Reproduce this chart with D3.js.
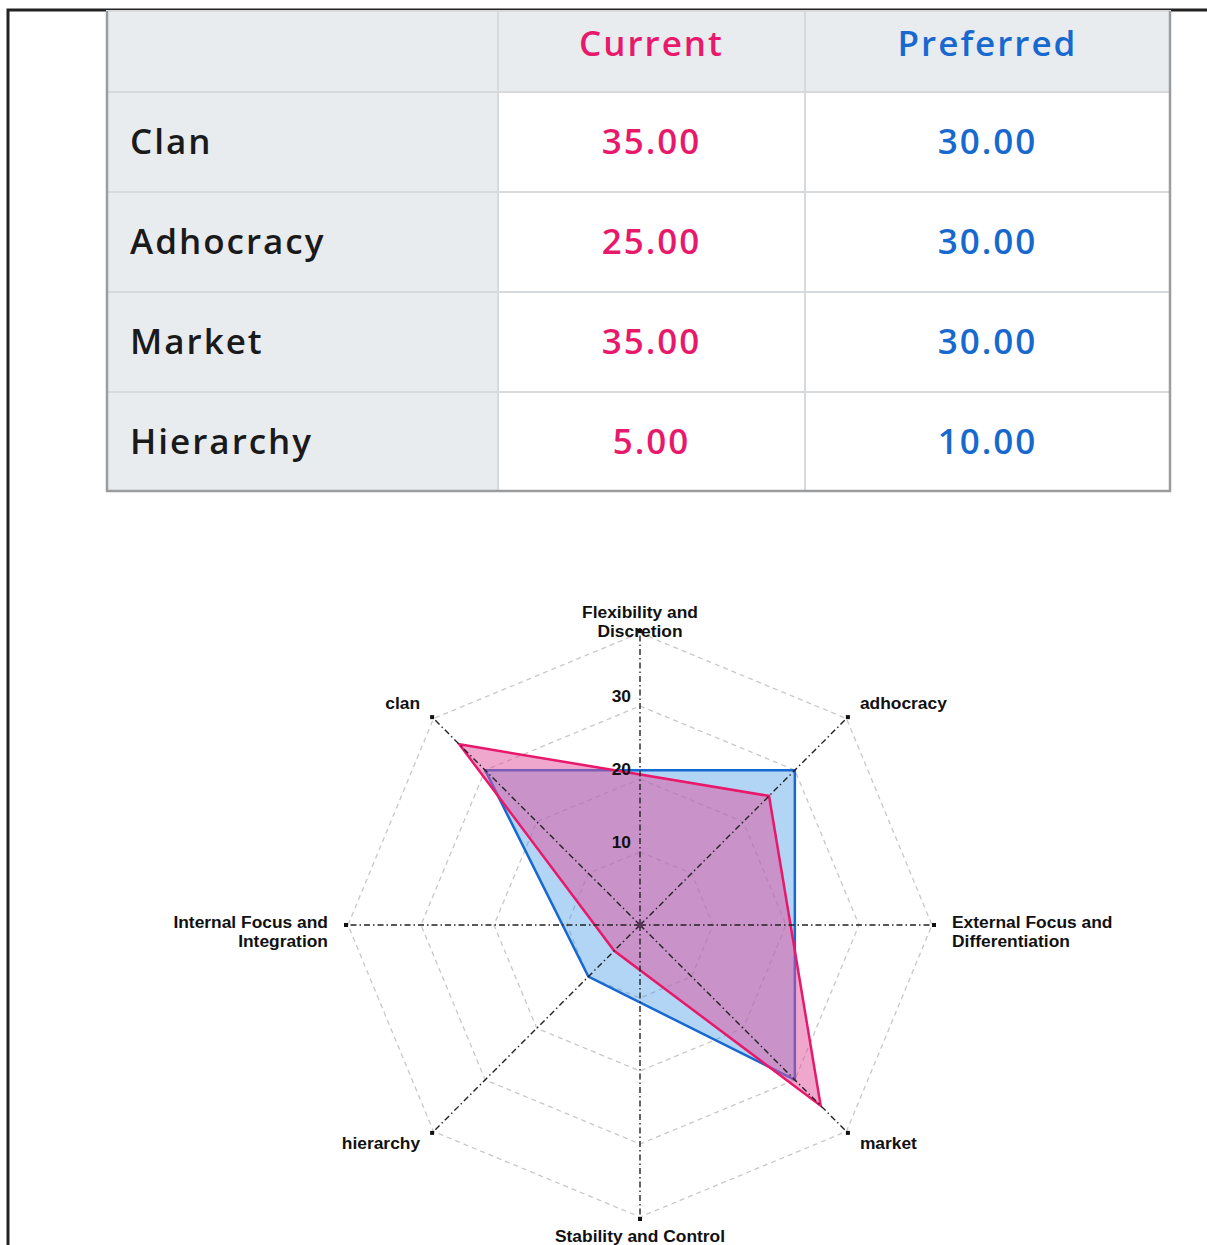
<!DOCTYPE html>
<meta charset="utf-8">
<style>
body { margin: 0; background: #fff; }
svg { display: block; }
.tbl text { font-family: "Open Sans", sans-serif; font-weight: 600; font-size: 35px; letter-spacing: 2px; }
.radar text { font-family: "Liberation Sans", Arial, sans-serif; font-weight: bold; font-size: 17.4px; fill: #111; }
</style>

<svg class="chart" width="1207" height="1245"></svg>
<script src="https://d3js.org/d3.v7.min.js"></script>

<script>

// table data
var rowNames = ["Clan", "Adhocracy", "Market", "Hierarchy"];
var colNames = ["Current", "Preferred"];
var current = [35, 25, 35, 5];
var preferred = [30, 30, 30, 10];

// radar axes (clockwise from top)
var axisNames = [["Flexibility and", "Discretion"], ["adhocracy"], ["External Focus and", "Differentiation"],
                 ["market"], ["Stability and Control"], ["hierarchy"], ["Internal Focus and", "Integration"], ["clan"]];
var ringTicks = [10, 20, 30, 40];
var tickLabels = [10, 20, 30];
// which axis each culture sits on: clan, adhocracy, market, hierarchy
var cultureAxis = [7, 1, 3, 5];

var pink = "#e8196b", blue = "#1769d0";

var svg = d3.select(".chart");

// page frame
svg.append("path")
  .attr("d", "M8,1245 V10 H1207")
  .attr("fill", "none")
  .attr("stroke", "#222")
  .attr("stroke-width", 3);

// ---- table ----
var colX = [107, 498, 805, 1170];
var rowY = [11, 92, 192, 292, 392, 491];

var tbl = svg.append("g").attr("class", "tbl");

// cells
for (var r = 0; r < 5; r++) {
  for (var c = 0; c < 3; c++) {
    tbl.append("rect")
      .attr("x", colX[c]).attr("y", rowY[r])
      .attr("width", colX[c+1] - colX[c]).attr("height", rowY[r+1] - rowY[r])
      .attr("fill", (r == 0 || c == 0) ? "#e9ecef" : "#fff")
      .attr("stroke", "#d6dadd").attr("stroke-width", 2);
  }
}
// outer border left/right/bottom
tbl.append("path")
  .attr("d", "M" + colX[0] + "," + rowY[0] + " V" + rowY[5] + " H" + colX[3] + " V" + rowY[0])
  .attr("fill", "none").attr("stroke", "#9a9c9e").attr("stroke-width", 2.5);

// header
tbl.selectAll(".hdr").data(colNames).enter().append("text")
  .attr("x", function(d, i) { return (colX[i+1] + colX[i+2]) / 2; })
  .attr("y", (rowY[0] + rowY[1]) / 2 - 8)
  .attr("dy", ".35em")
  .attr("text-anchor", "middle")
  .attr("fill", function(d, i) { return i == 0 ? pink : blue; })
  .text(function(d) { return d; });

tbl.selectAll(".rname").data(rowNames).enter().append("text")
  .attr("x", colX[0] + 23)
  .attr("y", function(d, i) { return (rowY[i+1] + rowY[i+2]) / 2; })
  .attr("dy", ".35em")
  .attr("fill", "#1a1a1a")
  .text(function(d) { return d; });

[current, preferred].forEach(function(vals, k) {
  tbl.selectAll(".v" + k).data(vals).enter().append("text")
    .attr("x", (colX[k+1] + colX[k+2]) / 2)
    .attr("y", function(d, i) { return (rowY[i+1] + rowY[i+2]) / 2; })
    .attr("dy", ".35em")
    .attr("text-anchor", "middle")
    .attr("fill", k == 0 ? pink : blue)
    .text(function(d) { return d3.format(".2f")(d); });
});

// ---- radar ----
var cx = 640, cy = 925;
var rScale = d3.scaleLinear().domain([0, 40]).range([0, 292]);
var angle = function(i) { return i * Math.PI / 4; };
var pt = function(i, rad) { return [cx + rad * Math.sin(angle(i)), cy - rad * Math.cos(angle(i))]; };

var radar = svg.append("g").attr("class", "radar");

// rings
ringTicks.forEach(function(t) {
  var pts = d3.range(8).map(function(i) { return pt(i, rScale(t)); });
  radar.append("polygon")
    .attr("points", pts.map(function(p) { return p.join(","); }).join(" "))
    .attr("fill", "none")
    .attr("stroke", "#c8c8c8")
    .attr("stroke-width", 1.3)
    .attr("stroke-dasharray", "5,4");
});

// polygons
var radial = d3.lineRadial()
  .angle(function(d) { return angle(d.axis); })
  .radius(function(d) { return rScale(d.value); })
  .curve(d3.curveLinearClosed);

[[preferred, blue, "#4a9be8", 0.42], [current, pink, "#e0509e", 0.5]].forEach(function(s) {
  var pts = s[0].map(function(v, i) { return {axis: cultureAxis[i], value: v}; });
  // draw in axis order clan -> adhocracy -> market -> hierarchy
  radar.append("path")
    .attr("transform", "translate(" + cx + "," + cy + ")")
    .attr("d", radial(pts.sort(function(a, b) { return ((a.axis + 1) % 8) - ((b.axis + 1) % 8); })))
    .attr("fill", s[2]).attr("fill-opacity", s[3])
    .attr("stroke", s[1]).attr("stroke-width", 2.5)
    .attr("stroke-linejoin", "miter");
});

// axes
d3.range(8).forEach(function(i) {
  var e = pt(i, 294);
  radar.append("line")
    .attr("x1", cx).attr("y1", cy).attr("x2", e[0]).attr("y2", e[1])
    .attr("stroke", "#222").attr("stroke-width", 1.4)
    .attr("stroke-dasharray", "6,3,1.5,3");
  radar.append("rect")
    .attr("x", e[0] - 2).attr("y", e[1] - 2).attr("width", 4).attr("height", 4)
    .attr("fill", "#111");
});
radar.append("circle").attr("cx", cx).attr("cy", cy).attr("r", 3).attr("fill", "#553355");

// tick labels
radar.selectAll(".tick").data(tickLabels).enter().append("text")
  .attr("x", cx - 9)
  .attr("y", function(d) { return cy - rScale(d) - 4; })
  .attr("text-anchor", "end")
  .text(function(d) { return d; });

// axis labels
axisNames.forEach(function(lines, i) {
  var e = pt(i, 294);
  var s = Math.round(Math.sin(angle(i)) * 100) / 100;
  var c = Math.round(Math.cos(angle(i)) * 100) / 100;
  var anchor = s > 0 ? "start" : s < 0 ? "end" : "middle";
  var x = e[0], y;
  if (s == 0) {
    y = c > 0 ? e[1] - 13 : e[1] + 23;
  } else if (c == 0) {
    x += s > 0 ? 18 : -18;
    y = e[1] + 3;
  } else {
    x += s > 0 ? 12 : -12;
    y = c > 0 ? e[1] - 8 : e[1] + 16;
  }
  var t = radar.append("text").attr("text-anchor", anchor);
  lines.forEach(function(l, k) {
    t.append("tspan").attr("x", x).attr("y", y + k * 19).text(l);
  });
});

</script>
